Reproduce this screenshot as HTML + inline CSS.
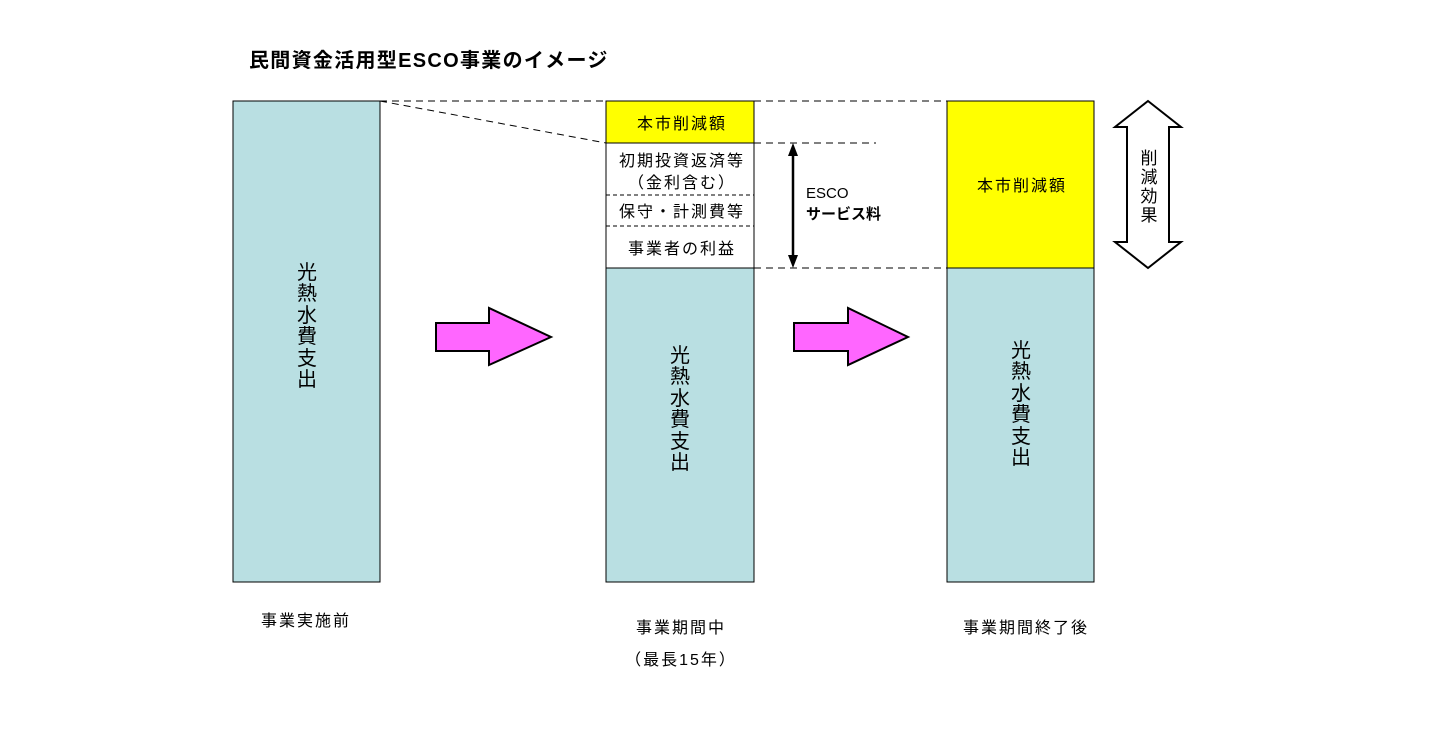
<!DOCTYPE html>
<html><head><meta charset="utf-8"><style>
html,body{margin:0;padding:0;background:#fff;}
svg{display:block;}
text{font-family:"Liberation Sans","Noto Sans CJK JP",sans-serif;fill:#000;}
.m{font-size:16px;letter-spacing:2px;}
</style></head><body>
<svg width="1440" height="736" viewBox="0 0 1440 736" xmlns="http://www.w3.org/2000/svg">
<rect width="1440" height="736" fill="#fff"/>
<text x="249" y="67" font-size="20" font-weight="bold" letter-spacing="1.3">民間資金活用型ESCO事業のイメージ</text>

<!-- left column -->
<rect x="233" y="101" width="147" height="481" fill="#B9DFE2" stroke="#000" stroke-width="1"/>
<g font-size="20" text-anchor="middle">
<text x="307" y="279">光</text><text x="307" y="300">熱</text><text x="307" y="322">水</text><text x="307" y="343">費</text><text x="307" y="365">支</text><text x="307" y="386">出</text>
</g>

<!-- middle column -->
<rect x="606" y="101" width="148" height="42" fill="#FFFF00" stroke="#000"/>
<rect x="606" y="143" width="148" height="125" fill="#fff" stroke="#000"/>
<rect x="606" y="268" width="148" height="314" fill="#B9DFE2" stroke="#000"/>
<line x1="606" y1="195" x2="754" y2="195" stroke="#000" stroke-dasharray="4,3"/>
<line x1="606" y1="226" x2="754" y2="226" stroke="#000" stroke-dasharray="4,3"/>
<g class="m" text-anchor="middle">
<text x="682" y="129">本市削減額</text>
<text x="682" y="166">初期投資返済等</text>
<text x="682" y="188">（金利含む）</text>
<text x="682" y="217">保守・計測費等</text>
<text x="682" y="254">事業者の利益</text>
</g>
<g font-size="20" text-anchor="middle">
<text x="680" y="362">光</text><text x="680" y="383">熱</text><text x="680" y="405">水</text><text x="680" y="426">費</text><text x="680" y="448">支</text><text x="680" y="469">出</text>
</g>

<!-- right column -->
<rect x="947" y="101" width="147" height="167" fill="#FFFF00" stroke="#000"/>
<rect x="947" y="268" width="147" height="314" fill="#B9DFE2" stroke="#000"/>
<text class="m" x="1022" y="191" text-anchor="middle">本市削減額</text>
<g font-size="20" text-anchor="middle">
<text x="1021" y="357">光</text><text x="1021" y="378">熱</text><text x="1021" y="400">水</text><text x="1021" y="421">費</text><text x="1021" y="443">支</text><text x="1021" y="464">出</text>
</g>

<!-- dashed connectors -->
<g stroke="#000" stroke-width="1" stroke-dasharray="7,5" fill="none">
<line x1="380" y1="101" x2="606" y2="101"/>
<line x1="380" y1="101" x2="606" y2="143"/>
<line x1="754" y1="101" x2="947" y2="101"/>
<line x1="754" y1="143" x2="876" y2="143"/>
<line x1="754" y1="268" x2="947" y2="268"/>
</g>

<!-- vertical double arrow -->
<line x1="793" y1="152" x2="793" y2="259" stroke="#000" stroke-width="2.5"/>
<polygon points="793,143 788,156 798,156" fill="#000"/>
<polygon points="793,268 788,255 798,255" fill="#000"/>
<text x="806" y="198" font-size="15">ESCO</text>
<text x="806" y="219" font-size="15" font-weight="bold">サービス料</text>

<!-- block arrows -->
<polygon points="436,323 489,323 489,308 551,337 489,365 489,351 436,351" fill="#FF66FF" stroke="#000" stroke-width="2"/>
<polygon points="794,323 848,323 848,308 908,337 848,365 848,351 794,351" fill="#FF66FF" stroke="#000" stroke-width="2"/>

<!-- big double arrow -->
<polygon points="1148,101 1181,127 1169,127 1169,242 1181,242 1148,268 1115,242 1127,242 1127,127 1115,127" fill="#fff" stroke="#000" stroke-width="2"/>
<g font-size="17" text-anchor="middle">
<text x="1149" y="164">削</text><text x="1149" y="183">減</text><text x="1149" y="202">効</text><text x="1149" y="221">果</text>
</g>

<!-- bottom labels -->
<g class="m" text-anchor="middle">
<text x="306" y="626">事業実施前</text>
<text x="681" y="633">事業期間中</text>
<text x="681" y="665">（最長15年）</text>
<text x="1026" y="633">事業期間終了後</text>
</g>
</svg>
</body></html>
